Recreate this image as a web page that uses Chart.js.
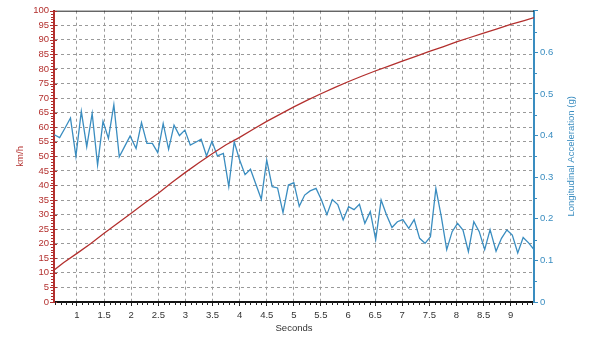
<!DOCTYPE html>
<html>
<head>
<meta charset="utf-8">
<script src="https://cdn.jsdelivr.net/npm/chart.js@4"></script>
<style>
  html, body { margin: 0; padding: 0; background: #fff; }
</style>
</head>
<body>
<canvas id="chart" width="600" height="343"></canvas>
<script>
// sample times (s) of the acceleration trace
const TIMES = [
  0.58, 0.68, 0.78, 0.88, 0.98, 1.08, 1.18, 1.28, 1.38, 1.48,
  1.58, 1.68, 1.78, 1.88, 1.98, 2.09, 2.19, 2.29, 2.39, 2.49,
  2.59, 2.69, 2.79, 2.89, 2.99, 3.09, 3.19, 3.29, 3.39, 3.49,
  3.59, 3.70, 3.80, 3.90, 4.00, 4.10, 4.20, 4.30, 4.40, 4.50,
  4.60, 4.70, 4.80, 4.90, 5.00, 5.10, 5.20, 5.30, 5.41, 5.51,
  5.61, 5.71, 5.81, 5.91, 6.01, 6.11, 6.21, 6.31, 6.41, 6.51,
  6.61, 6.71, 6.81, 6.91, 7.01, 7.12, 7.22, 7.32, 7.42, 7.52,
  7.62, 7.72, 7.82, 7.92, 8.02, 8.12, 8.22, 8.32, 8.42, 8.52,
  8.62, 8.73, 8.83, 8.93, 9.03, 9.13, 9.23, 9.33, 9.43
];
// longitudinal acceleration (g)
const ACCEL = [
  0.402, 0.395, 0.418, 0.442, 0.350, 0.458, 0.373, 0.453, 0.329, 0.434,
  0.393, 0.474, 0.349, 0.374, 0.399, 0.369, 0.431, 0.381, 0.381, 0.359,
  0.429, 0.367, 0.425, 0.400, 0.413, 0.377, 0.384, 0.391, 0.351, 0.386,
  0.351, 0.357, 0.277, 0.385, 0.341, 0.306, 0.319, 0.283, 0.247, 0.341,
  0.277, 0.274, 0.215, 0.281, 0.287, 0.230, 0.257, 0.267, 0.273, 0.245,
  0.210, 0.246, 0.234, 0.197, 0.229, 0.222, 0.235, 0.189, 0.217, 0.150,
  0.245, 0.209, 0.179, 0.193, 0.198, 0.177, 0.198, 0.153, 0.141, 0.157,
  0.273, 0.205, 0.126, 0.169, 0.189, 0.173, 0.121, 0.193, 0.169, 0.126,
  0.174, 0.122, 0.153, 0.173, 0.161, 0.118, 0.155, 0.142, 0.126
];
// speed trace (km/h)
const SPEED_T = [
  0.58, 0.75, 1, 1.25, 1.5, 1.75, 2, 2.25, 2.5, 2.75, 3, 3.25, 3.5,
  3.75, 4, 4.25, 4.5, 4.75, 5, 5.25, 5.5, 5.75, 6, 6.25, 6.5, 6.75,
  7, 7.25, 7.5, 7.75, 8, 8.25, 8.5, 8.75, 9, 9.25, 9.43
];
const SPEED = [
  11, 13.5, 16.7, 20, 23.6, 27, 30.5, 34, 37.3, 41, 44.5, 47.8, 51,
  54, 56.5, 59.3, 62, 64.5, 67, 69.3, 71.5, 73.6, 75.6, 77.5, 79.3, 81,
  82.7, 84.3, 86, 87.6, 89.3, 90.8, 92.3, 93.8, 95.3, 96.6, 97.6
];

const RED = '#b3302e';
const BLUE = '#3a8dc0';
const FONT = { family: '"Liberation Sans", Arial, sans-serif', size: 9.5 };

// extra axis bits: minor ticks, top frame line, right title reading upwards
const axisDecor = {
  id: 'axisDecor',
  afterDraw(chart) {
    const { ctx, chartArea: a, scales: { x, y, y1 } } = chart;
    ctx.save();
    ctx.lineWidth = 1;

    ctx.strokeStyle = '#222';
    ctx.beginPath();
    ctx.moveTo(a.left, a.top + 0.5);
    ctx.lineTo(a.right, a.top + 0.5);
    ctx.stroke();

    ctx.strokeStyle = RED;
    for (let v = 0; v <= 100; v++) {
      const py = Math.round(y.getPixelForValue(v)) + 0.5;
      const major = v % 5 === 0;
      ctx.beginPath();
      ctx.moveTo(a.left - (major ? 4 : 3), py);
      ctx.lineTo(a.left + (major ? 3 : 0), py);
      ctx.stroke();
    }

    ctx.strokeStyle = BLUE;
    for (let i = 1; i < 14; i += 2) {
      const py = Math.round(y1.getPixelForValue(i * 0.05)) + 0.5;
      ctx.beginPath();
      ctx.moveTo(a.right, py);
      ctx.lineTo(a.right + 3, py);
      ctx.stroke();
    }

    ctx.strokeStyle = '#222';
    for (let i = Math.ceil(x.min * 10); i <= Math.floor(x.max * 10); i++) {
      if (i % 5 === 0) continue;
      const px = Math.round(x.getPixelForValue(i / 10)) + 0.5;
      ctx.beginPath();
      ctx.moveTo(px, a.bottom);
      ctx.lineTo(px, a.bottom + 3);
      ctx.stroke();
    }

    ctx.fillStyle = BLUE;
    ctx.font = `${FONT.size}px ${FONT.family}`;
    ctx.textAlign = 'center';
    ctx.textBaseline = 'middle';
    ctx.translate(571, (a.top + a.bottom) / 2);
    ctx.rotate(-Math.PI / 2);
    ctx.fillText('Longitudinal Acceleration (g)', 0, 0);
    ctx.restore();
  }
};

const gridColor = (c) => (c.tick && (c.tick.value === 0 || c.tick.value === 100) ? 'rgba(0,0,0,0)' : '#9a9a9a');

new Chart(document.getElementById('chart'), {
  type: 'line',
  data: {
    datasets: [{
      label: 'km/h',
      data: SPEED_T.map((t, i) => ({ x: t, y: SPEED[i] })),
      yAxisID: 'y',
      borderColor: RED,
      borderWidth: 1.3,
      pointRadius: 0,
      tension: 0,
    }, {
      label: 'Longitudinal Acceleration (g)',
      data: TIMES.map((t, i) => ({ x: t, y: ACCEL[i] })),
      yAxisID: 'y1',
      borderColor: BLUE,
      borderWidth: 1.3,
      pointRadius: 0,
      tension: 0,
    }],
  },
  options: {
    responsive: false,
    animation: false,
    layout: { padding: { top: 10, left: 0, right: 0, bottom: 0 } },
    plugins: { legend: { display: false }, tooltip: { enabled: false } },
    scales: {
      x: {
        type: 'linear',
        min: 0.576,
        max: 9.43,
        afterFit: (s) => { s.height = 41; },
        ticks: {
          stepSize: 0.5,
          includeBounds: false,
          color: '#333',
          font: FONT,
          padding: 4,
          maxRotation: 0,
          autoSkip: false,
          callback: (v) => String(Math.round(v * 10) / 10),
        },
        grid: { color: '#9a9a9a', lineWidth: 1, tickLength: 4, tickColor: '#222' },
        border: { color: '#111', width: 2, dash: [3, 3] },
        title: { display: true, text: 'Seconds', color: '#333', font: FONT, padding: { top: 0, bottom: 9 } },
      },
      y: {
        position: 'left',
        min: 0,
        max: 100,
        afterFit: (s) => { s.width = 54; },
        ticks: { stepSize: 5, color: RED, font: FONT, padding: 5, autoSkip: false },
        grid: { color: gridColor, lineWidth: 1, drawTicks: false },
        border: { color: RED, width: 2, dash: [3, 3] },
        title: { display: true, text: 'km/h', color: RED, font: FONT, padding: { top: 15, bottom: 0 } },
      },
      y1: {
        position: 'right',
        min: 0,
        max: 0.7,
        afterFit: (s) => { s.width = 66; },
        ticks: {
          stepSize: 0.1,
          color: BLUE,
          font: FONT,
          padding: 2,
          autoSkip: false,
          callback: (v) => (v > 0.65 ? '' : v === 0 ? '0' : v.toFixed(1)),
        },
        grid: { drawOnChartArea: false, tickLength: 4, tickColor: BLUE },
        border: { color: BLUE, width: 2 },
      },
    },
  },
  plugins: [axisDecor],
});
</script>
</body>
</html>
